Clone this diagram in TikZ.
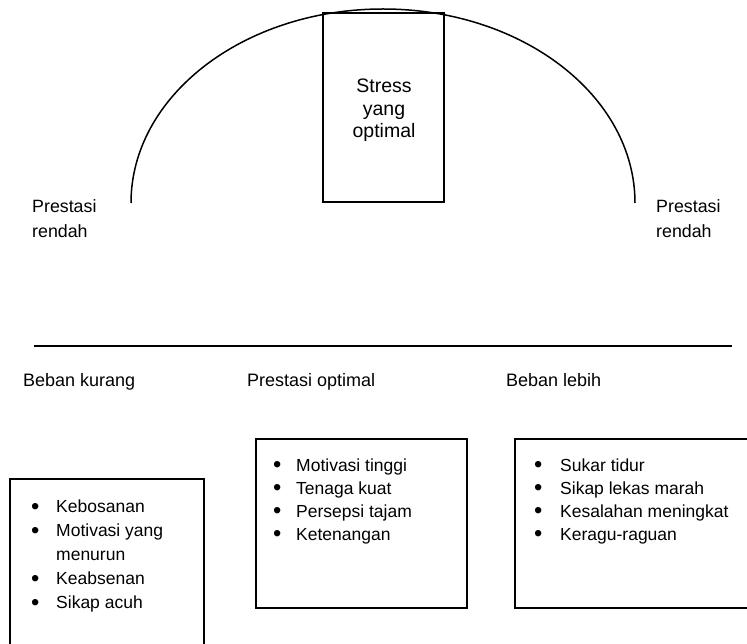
\documentclass[tikz,border=0pt]{standalone}
\usepackage{fontspec}
\setmainfont{Liberation Sans}
\newcommand\mybul{\raisebox{-1.9pt}{\scalebox{1.35}{\textbullet}}}
\begin{document}
\begin{tikzpicture}[x=1pt,y=-1pt,
  frame/.style={line width=1.5pt},
  txt/.style={anchor=base west, inner sep=0pt, font=\fontsize{18}{23}\selectfont},
  two/.style={anchor=base west, inner sep=0pt, font=\fontsize{17.8}{24.5}\selectfont},
  lstA/.style={anchor=base west, inner sep=0pt, font=\fontsize{17.5}{24}\selectfont},
  lstB/.style={anchor=base west, inner sep=0pt, font=\fontsize{17.5}{23}\selectfont}]
\useasboundingbox (0,0) rectangle (747,644);
% curve and central box
\draw[line width=1.5pt] (131,203) arc[start angle=180, end angle=360, x radius=252, y radius=194];
\draw[frame] (323,13) rectangle (444,202);
\node[anchor=base, inner sep=0pt, font=\fontsize{19.5}{22.5}\selectfont] (stress) at (384,93)
  {\begin{tabular}[t]{@{}c@{}}Stress\\yang\\optimal\end{tabular}};
\node[two] (prl) at (32,213) {\begin{tabular}[t]{@{}l@{}}Prestasi\\rendah\end{tabular}};
\node[two] (prr) at (656,213) {\begin{tabular}[t]{@{}l@{}}Prestasi\\rendah\end{tabular}};
% axis line
\coordinate (la) at (34,346);
\coordinate (lb) at (732,346);
\draw[line width=2pt] (la) -- (lb);
\node[txt] (bk) at (23,386) {Beban kurang};
\node[txt] (po) at (247,386) {Prestasi optimal};
\node[txt] (bl) at (506,386) {Beban lebih};
% boxes
\draw[frame] (10,650) -- (10,479) -- (204,479) -- (204,650);
\draw[frame] (256,439) rectangle (467,608);
\draw[frame] (760,439) -- (515,439) -- (515,608) -- (760,608);
\node[lstA] (lk) at (31,512.7) {\begin{tabular}[t]{@{}p{25pt}@{}l@{}}
  \mybul & Kebosanan\\
  \mybul & Motivasi yang\\
         & menurun\\
  \mybul & Keabsenan\\
  \mybul & Sikap acuh\end{tabular}};
\node[lstB] (lo) at (273,471) {\begin{tabular}[t]{@{}p{23pt}@{}l@{}}
  \mybul & Motivasi tinggi\\
  \mybul & Tenaga kuat\\
  \mybul & Persepsi tajam\\
  \mybul & Ketenangan\end{tabular}};
\node[lstB] (ll) at (534,471) {\begin{tabular}[t]{@{}p{26pt}@{}l@{}}
  \mybul & Sukar tidur\\
  \mybul & Sikap lekas marah\\
  \mybul & Kesalahan meningkat\\
  \mybul & Keragu-raguan\end{tabular}};
\end{tikzpicture}
\end{document}
